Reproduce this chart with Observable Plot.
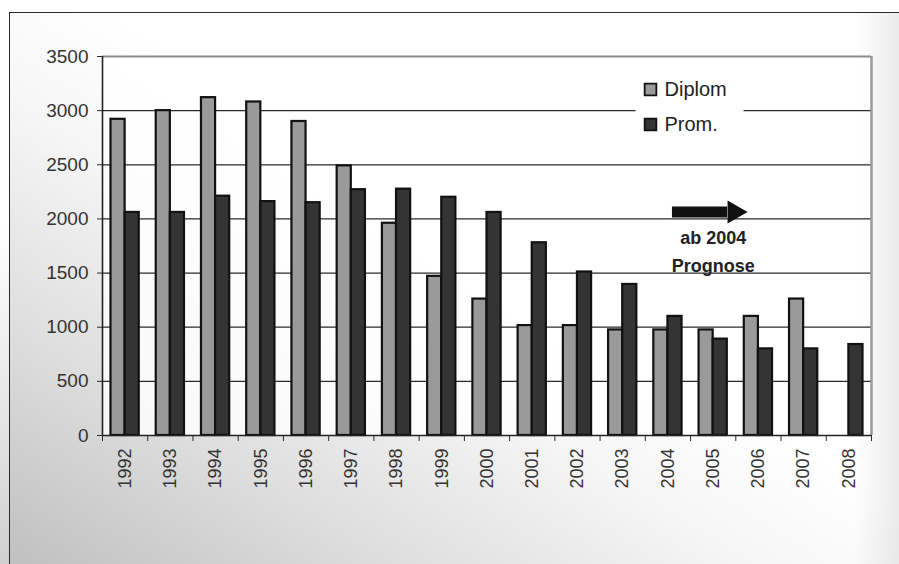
<!DOCTYPE html>
<html>
<head>
<meta charset="utf-8">
<script src="https://cdn.jsdelivr.net/npm/d3@7"></script>
<script src="https://cdn.jsdelivr.net/npm/@observablehq/plot@0.6"></script>
<style>
  html, body { margin: 0; padding: 0; }
  body { width: 899px; height: 564px; overflow: hidden; position: relative;
    background:
      linear-gradient(to right, rgba(0,0,0,0) 95%, rgba(0,0,0,0.08) 100%),
      linear-gradient(32deg, #bfbfbf 0%, #dedede 22%, #f6f6f6 42%, #ffffff 55%, #ffffff 100%);
    font-family: "Liberation Sans", Arial, sans-serif; }
  #topwhite { position: absolute; left: 0; top: 0; width: 899px; height: 12px; background: #fff; }
  #leftwhite { position: absolute; left: 0; top: 0; width: 9px; height: 564px;
    background: linear-gradient(to bottom, #fff 0%, #fff 40%, #d0d0d0 100%); }
  #frame { position: absolute; left: 9px; top: 12px; width: 890px; height: 552px;
    border-top: 1.5px solid #2a2a2a; border-left: 1.5px solid #2a2a2a; box-sizing: border-box; }
  #chart { position: absolute; left: 0; top: 0; }
</style>
</head>
<body>
<div id="topwhite"></div>
<div id="leftwhite"></div>
<div id="frame"></div>
<div id="chart"></div>
<script>
// ---- data ----
const years  = [1992, 1993, 1994, 1995, 1996, 1997, 1998, 1999, 2000, 2001, 2002, 2003, 2004, 2005, 2006, 2007, 2008];
const diplom = [2920, 3000, 3120, 3080, 2900, 2490, 1960, 1470, 1260, 1015, 1015, 975, 975, 975, 1100, 1260, null];
const prom   = [2060, 2060, 2210, 2160, 2150, 2270, 2275, 2200, 2060, 1780, 1510, 1395, 1100, 890, 800, 800, 840];
const seriesNames = ["Diplom", "Prom."];
const seriesColors = ["#9a9a9a", "#343434"];
const yTicks = [0, 500, 1000, 1500, 2000, 2500, 3000, 3500];
const gridTicks = [500, 1000, 1500, 2000, 2500, 3000];
const annotationText = "ab 2004\nPrognose";
const arrow = {x1: 2004.1, x2: 2005.32, y: 2064};
const annotationPos = {x: 2005.0, y: 1720};

const rows = years.map((y, i) => ({year: y, diplom: diplom[i], prom: prom[i]}));
const boundaries = [years[0] - 0.5, ...years.map(y => y + 0.5)];

const W = 899, H = 564;
const mL = 102, mR = 28, mT = 56, mB = 129;
const bw = (W - mL - mR) / years.length;
const font = "Liberation Sans, Arial, sans-serif";

const legendMarks = seriesNames.flatMap((name, i) => [
  Plot.dot([name], {frameAnchor: "top-left", dx: 548, dy: 33 + 35 * i, symbol: "square", r: 6.6,
    fill: seriesColors[i], stroke: "#111", strokeWidth: 1.8}),
  Plot.text([name], {text: d => d, frameAnchor: "top-left", dx: 562, dy: 33 + 35 * i, textAnchor: "start",
    lineAnchor: "middle", fontSize: 20, fill: "#222", fontFamily: font, letterSpacing: "0.3px"})
]);

const chart = Plot.plot({
  width: W, height: H,
  marginLeft: mL, marginRight: mR, marginTop: mT, marginBottom: mB,
  style: {background: "transparent", fontFamily: font, color: "#2a2a2a", overflow: "visible"},
  x: {type: "linear", domain: [boundaries[0], boundaries[boundaries.length - 1]]},
  y: {domain: [0, 3500]},
  marks: [
    Plot.frame({fill: "white", fillOpacity: 0.8, stroke: null}),
    Plot.ruleY(gridTicks, {stroke: "#2a2a2a", strokeWidth: 1.3}),
    Plot.ruleY([3500], {stroke: "#8c8c8c", strokeWidth: 2}),
    Plot.ruleX([boundaries[boundaries.length - 1]], {stroke: "#9a9a9a", strokeWidth: 2.5}),
    Plot.frame({fill: "white", stroke: null, insetLeft: 533, insetRight: 128, insetTop: 16, insetBottom: 296}),
    ...legendMarks,
    Plot.rect(rows.filter(d => d.diplom != null), {
      x1: d => d.year - 0.5, x2: d => d.year + 0.5, y1: 0, y2: "diplom",
      insetLeft: 8.5, insetRight: bw / 2, fill: seriesColors[0], stroke: "#111", strokeWidth: 2.2
    }),
    Plot.rect(rows, {
      x1: d => d.year - 0.5, x2: d => d.year + 0.5, y1: 0, y2: "prom",
      insetLeft: bw / 2, insetRight: 8.5, fill: seriesColors[1], stroke: "#111", strokeWidth: 2.2
    }),
    Plot.ruleY([0], {stroke: "#222", strokeWidth: 1.6}),
    Plot.ruleX([boundaries[0]], {stroke: "#222", strokeWidth: 1.6}),
    Plot.axisY({ticks: yTicks, tickSize: 5, tickPadding: 9, fontSize: 19, tickFormat: d => String(d),
      fill: "#333", label: null}),
    Plot.axisX({ticks: boundaries, tickSize: 6, tickFormat: () => "", label: null}),
    Plot.axisX({ticks: years, tickSize: 0, tickPadding: 13, tickRotate: -90, fontSize: 18,
      tickFormat: d => String(d), fill: "#333", label: null}),
    // annotation arrow + text
    Plot.ruleY([arrow.y], {x1: arrow.x1, x2: arrow.x2, stroke: "#111", strokeWidth: 11}),
    Plot.dot([arrow], {x: "x2", y: "y", dx: 6.6, symbol: "triangle", rotate: 90, r: 8.6, fill: "#111", stroke: null}),
    Plot.text([annotationPos], {x: "x", y: "y", text: () => annotationText, fontSize: 18, fontWeight: "bold",
      lineHeight: 1.52, fill: "#222", fontFamily: font, letterSpacing: "0.7px"})
  ]
});
document.getElementById("chart").appendChild(chart);
</script>
</body>
</html>
